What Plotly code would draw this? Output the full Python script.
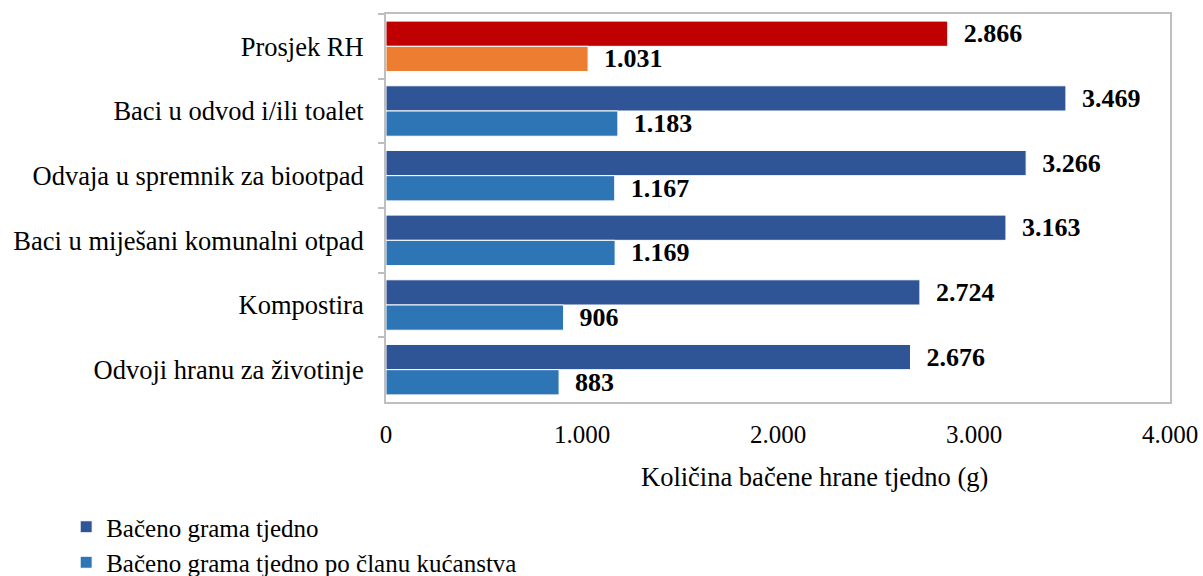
import plotly.graph_objects as go

# ── data ───────────────────────────────────────────────────────────────────────
categories = [
    "Prosjek RH",
    "Baci u odvod i/ili toalet",
    "Odvaja u spremnik za biootpad",
    "Baci u miješani komunalni otpad",
    "Kompostira",
    "Odvoji hranu za životinje",
]
grams_weekly = [2866, 3469, 3266, 3163, 2724, 2676]
grams_per_member = [1031, 1183, 1167, 1169, 906, 883]
x_ticks = [0, 1000, 2000, 3000, 4000]

FONT = "Liberation Serif, Times New Roman, serif"
FS = 26.5
DARK_BLUE = "#2F5597"
BLUE = "#2E75B6"
RED = "#C00000"
ORANGE = "#ED7D31"
NB = "\u00a0"


def fmt(v):
    return f"{v:,}".replace(",", ".")


def bar(y, x, color, group, name=None, show=False):
    return go.Bar(
        y=y, x=x, orientation="h",
        name=name, showlegend=show, legendgroup=name or group,
        offsetgroup=group,
        marker=dict(color=color, line=dict(color="white", width=1)),
        text=[NB * 2 + f"<b>{fmt(v)}</b>" for v in x],
        textposition="outside", cliponaxis=False, constraintext="none",
        textfont=dict(family=FONT, size=26, color="black"),
    )


fig = go.Figure()
# rest of the categories in blue, national average in red/orange
fig.add_trace(bar(categories[1:], grams_weekly[1:], DARK_BLUE, "a",
                  "Bačeno grama tjedno", True))
fig.add_trace(bar(categories[1:], grams_per_member[1:], BLUE, "b",
                  "Bačeno grama tjedno po članu kućanstva", True))
fig.add_trace(bar(categories[:1], grams_weekly[:1], RED, "a"))
fig.add_trace(bar(categories[:1], grams_per_member[:1], ORANGE, "b"))

fig.add_annotation(
    text="Količina bačene hrane tjedno (g)",
    xref="paper", yref="paper", x=0.547, y=-0.193,
    xanchor="center", yanchor="middle", showarrow=False,
    font=dict(family=FONT, size=FS, color="black"),
)

fig.update_layout(
    width=1203, height=576,
    paper_bgcolor="white", plot_bgcolor="white",
    margin=dict(l=386, r=33, t=14, b=174, autoexpand=False),
    barmode="group", bargap=0.22, bargroupgap=0.0,
    separators=",.",
    font=dict(family=FONT, size=FS, color="black"),
    xaxis=dict(
        range=[0, 4000], tickvals=x_ticks, ticktext=[fmt(t) for t in x_ticks],
        showgrid=False, zeroline=False, showline=True, mirror=True,
        linecolor="#BFBFBF", linewidth=2, ticks="", ticklabelstandoff=9,
        automargin=False,
        tickfont=dict(family=FONT, size=25, color="black"),
    ),
    yaxis=dict(
        categoryorder="array", categoryarray=categories, autorange="reversed",
        showgrid=False, showline=True, mirror=True, automargin=False,
        linecolor="#BFBFBF", linewidth=2,
        ticks="outside", tickson="boundaries", ticklen=6, tickcolor="#BFBFBF",
        tickwidth=2, ticklabelstandoff=15,
        tickfont=dict(family=FONT, size=FS, color="black"),
    ),
    legend=dict(
        xref="container", yref="container", x=0.055, y=0.125,
        xanchor="left", yanchor="top", orientation="v",
        traceorder="normal", tracegroupgap=0,
        font=dict(family=FONT, size=25, color="black"),
    ),
)

# drop the default 8px page margin so the figure fills the window exactly
fig.write_html(
    "out.html",
    config=dict(displayModeBar=False),
    post_script="document.body.style.margin='0';"
                "document.body.style.overflow='hidden';",
)
